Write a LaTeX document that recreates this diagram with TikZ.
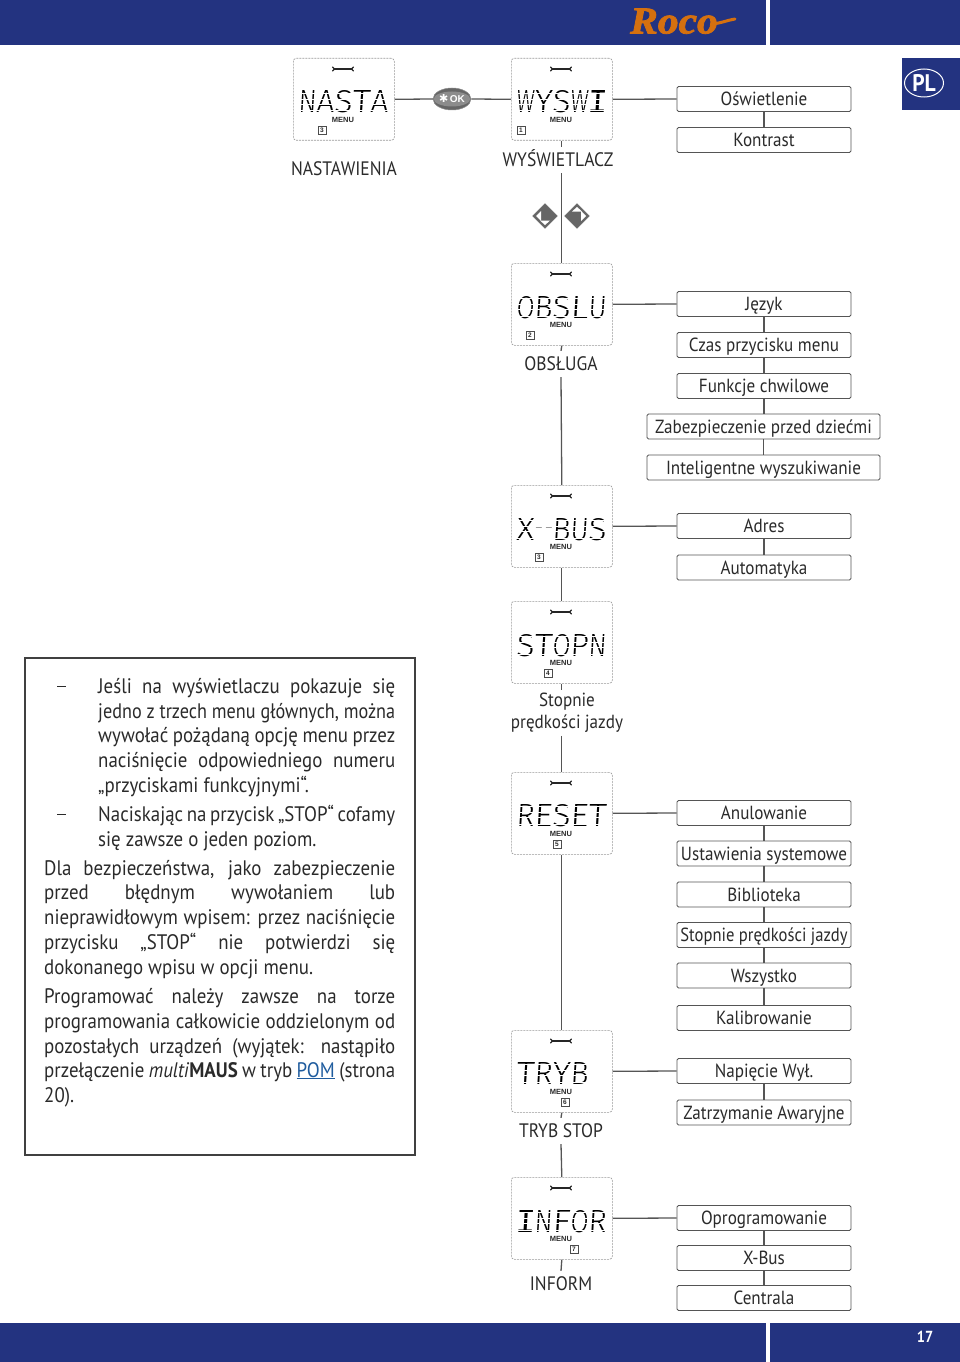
\documentclass[tikz,border=0pt]{standalone}
\usepackage{fontspec}
\usepackage{graphicx}
\usetikzlibrary{shapes.geometric}
\setmainfont[FakeStretch=0.9]{PT Sans}
\newfontfamily\lcdfont[UprightFont={* Light}]{Fira Sans}
\newfontfamily\lcdmono{Liberation Mono}
\newfontfamily\smallbold{Liberation Sans}
\newfontfamily\logofont[BoldItalicFeatures={FakeBold=2}]{Liberation Serif}
\newfontfamily\symfont{DejaVu Sans}
\definecolor{navy}{HTML}{233380}
\definecolor{ink}{HTML}{2A2A2A}
\definecolor{edge}{HTML}{555555}
\definecolor{logoor}{HTML}{D5700F}
\definecolor{linkblue}{HTML}{1F5C9E}
\newcommand{\fs}[1]{\fontsize{#1}{#1}\selectfont}
\newcommand{\LC}[1]{\makebox[18pt]{\resizebox{18pt}{22pt}{#1}}}
\newcommand{\LI}{\makebox[18pt]{\resizebox{20pt}{22pt}{\lcdmono I}}}
\newcommand{\LD}{\raisebox{9.6pt}{\resizebox{9pt}{2.6pt}{-}}}
\tikzset{
  bar/.style={fill=navy,draw=none},
  dispbox/.style={draw=black!40,dashed,dash pattern=on 2pt off 1pt,line width=.6pt,rounded corners=3pt,fill=white,minimum width=101pt,minimum height=82pt,anchor=north west,inner sep=0pt},
  item/.style={draw=edge,line width=.9pt,rounded corners=1.5pt,fill=white,minimum width=174pt,minimum height=25pt,inner sep=0pt,text=ink,font=\fs{19},anchor=center,text height=15.5pt,text depth=2.5pt},
  wideitem/.style={item,minimum width=233pt},
  conn/.style={draw=edge,line width=1.3pt},
  capt/.style={inner xsep=2pt,inner ysep=4pt,text=ink,font=\fs{19.5},text height=15pt,text depth=3pt,anchor=center},
  capttwo/.style={inner xsep=2pt,inner ysep=3pt,text=ink,align=center,anchor=center,font=\fontsize{19}{22}\selectfont},
  para/.style={inner sep=0pt,anchor=base west,text=ink,font=\fs{21}},
  lcdtext/.style={inner sep=0pt,anchor=base west,font=\lcdfont\fs{30},text=black,xslant=0.06,transform shape},
  menutext/.style={inner sep=0pt,font=\smallbold\bfseries\fs{7.5},text=ink},
  numbox/.style={draw=black!70,line width=.6pt,minimum width=8pt,minimum height=8pt,inner sep=0pt,font=\smallbold\bfseries\fs{6.5},text=ink},
  wrench/.style={line width=1.5pt,draw=black!85,line cap=round},
  cutstrip/.style={draw=none,fill=white},
}
% name, left, top, lcd text, text x, baseline, menu x, number x, number
\newcommand{\disp}[9]{%
  \node[dispbox] (#1) at (#2,#3) {};
  \draw[wrench] (#2+41,#3+11) -- (#2+59,#3+11);
  \draw[wrench,line width=1.1pt] (#2+39.5,#3+9) -- (#2+41.5,#3+11) -- (#2+39.5,#3+13);
  \draw[wrench,line width=1.1pt] (#2+60.5,#3+9) -- (#2+58.5,#3+11) -- (#2+60.5,#3+13);
  \node[lcdtext] (#1lcd) at (#5,#6) {#4};
  \fill[cutstrip] (#2+3,#6-13.6) rectangle (#2+98,#6-12.8);
  \fill[cutstrip] (#2+3,#6-9.1) rectangle (#2+98,#6-8.3);
  \fill[cutstrip] (#2+3,#6-20.2) rectangle (#2+98,#6-19.5);
  \fill[cutstrip] (#2+3,#6-2.5) rectangle (#2+98,#6-1.8);
  \node[menutext] (#1menu) at (#7,#3+61.5) {MENU};
  \node[numbox] (#1num) at (#8,#3+72) {#9};
}
% name, x, baseline, width, text : stretched to the printed measure
\newcommand{\jl}[5]{%
  \node[para] (#1) at (#2,#3) {\makebox[#4pt][s]{#5}};
}
\begin{document}
\begin{tikzpicture}[x=1pt,y=-1pt]
\useasboundingbox (0,0) rectangle (960,1362);
% bars
\fill[bar] (0,0) rectangle (766,45);
\fill[bar] (770,0) rectangle (960,45);
\fill[bar] (0,1323) rectangle (766,1362);
\fill[bar] (770,1323) rectangle (960,1362);
\fill[bar] (902,58) rectangle (960,110);
% logo
\node[inner sep=0pt,anchor=base west,font=\logofont\bfseries\itshape\fs{34},text=logoor] (logo) at (630,33.5) {\scalebox{1.22}[1.12]{Roco}};
\draw[logoor,line width=3pt,line cap=round] (712,24) .. controls (722,23) and (728,20) .. (735,19);
% PL
\draw[white,line width=1pt] (924,83) ellipse [x radius=19.5,y radius=14];
\node[inner sep=0pt,font=\bfseries\fs{24},text=white] (pl) at (924,83) {PL};
\node[inner sep=0pt,font=\bfseries\fs{16},text=white] (pageno) at (925,1337) {17};
% displays
\disp{nasta}{293}{58}{\LC{N}\LC{A}\LC{S}\LC{T}\LC{A}}{298}{113}{343}{322}{3}
\disp{wyswi}{511}{58}{\LC{W}\LC{Y}\LC{S}\LC{W}\LI}{516}{113}{561}{521}{1}
\disp{obslu}{511}{263}{\LC{O}\LC{B}\LC{S}\LC{L}\LC{U}}{516}{318}{561}{530}{2}
\disp{xbus}{511}{485}{\LC{X}\makebox[18pt]{\LD\hspace{1pt}\LD}\LC{B}\LC{U}\LC{S}}{516}{540}{561}{539}{3}
\disp{stopn}{511}{601}{\LC{S}\LC{T}\LC{O}\LC{P}\LC{N}}{516}{656}{561}{548}{4}
\disp{reset}{511}{772}{\LC{R}\LC{E}\LC{S}\LC{E}\LC{T}}{516}{826}{561}{557}{5}
\disp{tryb}{511}{1030}{\LC{T}\LC{R}\LC{Y}\LC{B}}{516}{1084}{561}{565}{6}
\disp{infor}{511}{1177}{\LI\LC{N}\LC{F}\LC{O}\LC{R}}{516}{1232}{561}{574}{7}
% captions
\node[capt] (lnasta) at (344,169) {NASTAWIENIA};
\node[capt] (lwys) at (558,160) {WYŚWIETLACZ};
\node[capt] (lobs) at (561,364) {OBSŁUGA};
\node[capttwo] (lstop) at (567,713) {Stopnie\\prędkości jazdy};
\node[capt] (ltryb) at (561,1131) {TRYB STOP};
\node[capt] (linf) at (561,1284) {INFORM};
% OK button
\node[ellipse,fill=black!60,draw=black!45,line width=.5pt,minimum width=38pt,minimum height=22pt,inner sep=0pt] (ok) at (452,99) {};
\node[ellipse,fill=black!45,minimum width=30pt,minimum height=15pt,inner sep=0pt,text=white,font=\smallbold\bfseries\fs{10}] (oktxt) at (452,99) {{\symfont\fs{11}\char"2731}\,OK};
% arrow keys
\node[diamond,fill=black!60,draw=black!60,minimum width=25pt,minimum height=25pt,inner sep=0pt] (kl) at (545,216) {};
\node[diamond,fill=black!60,draw=black!60,minimum width=25pt,minimum height=25pt,inner sep=0pt] (kr) at (577,216) {};
\fill[white] (536,216) -- (541,211) -- (541,221) -- cycle;
\fill[white] (586,216) -- (581,211) -- (581,221) -- cycle;
\fill[white] (577,207) -- (582,211.5) -- (572,211.5) -- cycle;
\fill[white] (545,225) -- (550,220.5) -- (540,220.5) -- cycle;
% menu items
\node[item] (i1) at (764,99) {Oświetlenie};
\node[item] (i2) at (764,140) {Kontrast};
\node[item] (o1) at (764,304) {Język};
\node[item] (o2) at (764,345) {Czas przycisku menu};
\node[item] (o3) at (764,386) {Funkcje chwilowe};
\node[wideitem] (o4) at (763.5,426.5) {Zabezpieczenie przed dziećmi};
\node[wideitem] (o5) at (763.5,467.5) {Inteligentne wyszukiwanie};
\node[item] (x1) at (764,526) {Adres};
\node[item] (x2) at (764,567.5) {Automatyka};
\node[item] (r1) at (764,813) {Anulowanie};
\node[item] (r2) at (764,853.5) {Ustawienia systemowe};
\node[item] (r3) at (764,894.5) {Biblioteka};
\node[item] (r4) at (764,935) {\scalebox{.97}[1]{Stopnie prędkości jazdy}};
\node[item] (r5) at (764,975.5) {Wszystko};
\node[item] (r6) at (764,1018) {Kalibrowanie};
\node[item] (t1) at (764,1071) {Napięcie Wył.};
\node[item] (t2) at (764,1112.5) {Zatrzymanie Awaryjne};
\node[item] (f1) at (764,1218) {Oprogramowanie};
\node[item] (f2) at (764,1258) {X-Bus};
\node[item] (f3) at (764,1298) {Centrala};
% connectors
\draw[conn] (nasta.east) -- (ok.west);
\draw[conn] (ok.east) -- (wyswi.west);
\draw[conn] (wyswi.east) -- (i1.west);
\draw[conn] (obslu.east) -- (o1.west);
\draw[conn] (xbus.east) -- (x1.west);
\draw[conn] (reset.east) -- (r1.west);
\draw[conn] (tryb.east) -- (t1.west);
\draw[conn] (infor.east) -- (f1.west);
\draw[conn] (wyswi.south) -- (wyswi.south |- lwys.north);
\draw[conn] (wyswi.south |- lwys.south) -- (obslu.north);
\draw[conn] (obslu.south) -- (lobs.north);
\draw[conn] (lobs.south) -- (xbus.north);
\draw[conn] (xbus.south) -- (stopn.north);
\draw[conn] (stopn.south) -- (stopn.south |- lstop.north);
\draw[conn] (stopn.south |- lstop.south) -- (reset.north);
\draw[conn] (reset.south) -- (tryb.north);
\draw[conn] (tryb.south) -- (ltryb.north);
\draw[conn] (ltryb.south) -- (infor.north);
\draw[conn] (infor.south) -- (linf.north);
\foreach \a/\b in {i1/i2,o1/o2,o2/o3,o3/o4,o4/o5,x1/x2,r1/r2,r2/r3,r3/r4,r4/r5,r5/r6,t1/t2,f1/f2,f2/f3}
  \draw[conn] (\a.south) -- (\a.south |- \b.north);
% text box
\node[draw=black!75,line width=1.6pt,fill=none,minimum width=390pt,minimum height=497pt,anchor=north west,inner sep=0pt] (frame) at (24,657) {};
\draw[ink,line width=1.3pt] (57,686.5) -- (66,686.5);
\draw[ink,line width=1.3pt] (57,814.5) -- (66,814.5);
\jl{p1}{98}{693}{297}{Jeśli na wyświetlaczu pokazuje się}
\node[para] (p2) at (98,718) {\resizebox{297pt}{\height}{jedno z trzech menu głównych, można}};
\jl{p3}{98}{742}{297}{wywołać pożądaną opcję menu przez}
\jl{p4}{98}{767}{297}{naciśnięcie odpowiedniego numeru}
\node[para] (p5) at (98,792) {„przyciskami funkcyjnymi“.};
\jl{p6}{98}{821}{297}{Naciskając na przycisk „STOP“ cofamy}
\node[para] (p7) at (98,846) {się zawsze o jeden poziom.};
\jl{p8}{44}{875}{351}{Dla bezpieczeństwa, jako zabezpieczenie}
\jl{p9}{44}{899}{351}{przed błędnym wywołaniem lub}
\jl{p10}{44}{924}{351}{nieprawidłowym wpisem: przez naciśnięcie}
\jl{p11}{44}{949}{351}{przycisku „STOP“ nie potwierdzi się}
\node[para] (p12) at (44,974) {dokonanego wpisu w opcji menu.};
\jl{p13}{44}{1003}{351}{Programować należy zawsze na torze}
\jl{p14}{44}{1028}{351}{programowania całkowicie oddzielonym od}
\jl{p15}{44}{1053}{351}{pozostałych urządzeń (wyjątek: nastąpiło}
\jl{p16}{44}{1077}{351}{przełączenie \textit{multi}\textbf{MAUS} w tryb \textcolor{linkblue}{\underline{POM}} (strona}
\node[para] (p17) at (44,1102) {20).};
\end{tikzpicture}
\end{document}
